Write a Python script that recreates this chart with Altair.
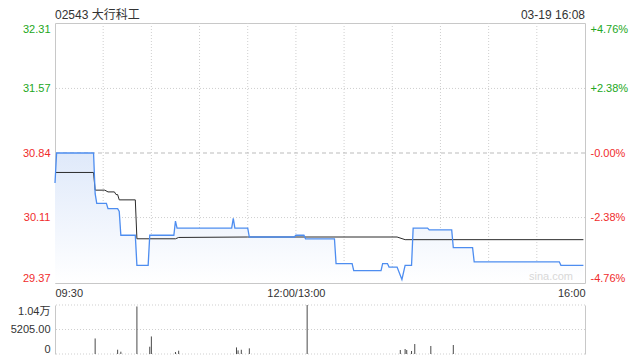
import json
import altair as alt
import pandas as pd

# ---------------- data ----------------
title_text = "02543 大行科工"
date_text = "03-19 16:08"
watermark = "sina.com"
prev_close = 30.84

# minutes since 09:30 on the trading-time axis (12:00 and 13:00 share minute 150)
price_t = [0, 1, 24, 25, 26, 32, 33, 39, 40, 41, 50, 51, 58, 59, 74, 75, 76, 110, 111, 112,
           120, 121, 149, 150, 155, 156, 174, 175, 185, 186, 203, 204, 207, 208, 213, 216,
           218, 222, 223, 232, 233, 247, 248, 260, 261, 314, 315, 329]
price_v = [30.50, 30.84, 30.84, 30.38, 30.27, 30.27, 30.21, 30.21, 30.18, 29.91,
           29.91, 29.57, 29.57, 29.91, 29.91, 30.07, 29.99, 29.99, 30.10, 29.99,
           29.99, 29.89, 29.89, 29.91, 29.91, 29.87, 29.87, 29.59, 29.59, 29.51,
           29.51, 29.59, 29.59, 29.55, 29.55, 29.41, 29.57, 29.57, 29.99, 29.99,
           29.97, 29.97, 29.77, 29.77, 29.61, 29.61, 29.57, 29.57]

avg_t = [0, 24, 25, 31, 33, 37, 38, 39, 40, 50, 51, 75, 77, 120, 213, 218, 329]
avg_v = [30.62, 30.62, 30.42, 30.42, 30.40, 30.40, 30.37, 30.37, 30.31, 30.31,
         29.87, 29.87, 29.885, 29.89, 29.89, 29.86, 29.86]

vol_t = [25, 39, 41, 51, 59, 60, 75, 77, 113, 114, 116, 121, 157, 215, 218, 219, 222, 224, 234, 248]
vol_v = [3300, 910, 490, 10100, 1550, 3730, 420, 700, 1400, 770, 900, 1200, 10410,
         850, 1060, 850, 640, 2120, 1700, 1910]

price_ticks = [29.37, 30.11, 30.84, 31.57, 32.31]
pct_labels = ["-4.76%", "-2.38%", "-0.00%", "+2.38%", "+4.76%"]
time_ticks = [0, 150, 330]
time_labels = ["09:30", "12:00/13:00", "16:00"]
grid_times = [30, 60, 90, 120, 150, 180, 210, 240, 270, 300]
vol_ticks = [0, 5205, 10410]
vol_labels = ["0", "5205.00", "1.04万"]

# ---------------- style ----------------
W = 530
H1 = 260
H2 = 49
FONT = "Liberation Sans, Noto Sans CJK SC, sans-serif"
GREEN = "#22a722"
RED = "#f02c2c"
GRID = "#cfcfcf"
BORDER = "#c8c8c8"
TEXT = "#333333"
BLUE = "#4d8df0"


def lookup(vals, labels):
    return "%s[indexof(%s, datum.value)]" % (
        json.dumps(labels, ensure_ascii=False), json.dumps(vals))


xs = alt.Scale(domain=[0, 330], nice=False, zero=False)
ys = alt.Scale(domain=[price_ticks[0], price_ticks[-1]], nice=False, zero=False)
vs = alt.Scale(domain=[0, vol_ticks[-1]], nice=False, zero=True)

price_df = pd.DataFrame({"t": price_t, "p": price_v})
avg_df = pd.DataFrame({"t": avg_t, "p": avg_v})
vol_df = pd.DataFrame({"t": vol_t, "v": vol_v})
hgrid_df = pd.DataFrame({"p": [v for v in price_ticks[1:-1] if v != prev_close]})
pc_df = pd.DataFrame({"p": [prev_close]})
vgrid_df = pd.DataFrame({"t": grid_times})
vhgrid_df = pd.DataFrame({"v": vol_ticks})

color_expr = {"expr": "datum.value > %s ? '%s' : '%s'" % (prev_close, GREEN, RED)}

# ---------------- price panel ----------------
vgrid = alt.Chart(vgrid_df).mark_rule(color=GRID, strokeDash=[1, 2], strokeWidth=1).encode(
    x=alt.X("t:Q", scale=xs, axis=None))
hgrid = alt.Chart(hgrid_df).mark_rule(color=GRID, strokeDash=[1, 2], strokeWidth=1).encode(
    y=alt.Y("p:Q", scale=ys, axis=None))
pcline = alt.Chart(pc_df).mark_rule(color="#bbbbbb", strokeDash=[4, 3], strokeWidth=1).encode(
    y=alt.Y("p:Q", scale=ys, axis=None))

area = alt.Chart(price_df).mark_area(
    color=alt.Gradient(
        gradient="linear",
        stops=[alt.GradientStop(color="#ffffff", offset=0),
               alt.GradientStop(color="#dfe9fa", offset=1)],
        x1=1, x2=1, y1=1, y2=0),
).encode(
    x=alt.X("t:Q", scale=xs, axis=alt.Axis(
        values=time_ticks, labelExpr=lookup(time_ticks, time_labels), labelFlush=True,
        grid=False, ticks=False, domain=False, labelPadding=4, labelFontSize=11,
        labelColor=TEXT, title=None)),
    y=alt.Y("p:Q", scale=ys, axis=alt.Axis(
        values=price_ticks, format=".2f", orient="left", grid=False, ticks=False,
        domain=False, labelFlush=True, labelPadding=5, labelFontSize=11,
        labelColor=color_expr, title=None)),
    y2=alt.datum(price_ticks[0]),
)

avg_line = alt.Chart(avg_df).mark_line(color="#2b2b2b", strokeWidth=1).encode(
    x=alt.X("t:Q", scale=xs, axis=None),
    y=alt.Y("p:Q", scale=ys, axis=None))

price_line = alt.Chart(price_df).mark_line(color=BLUE, strokeWidth=1.3).encode(
    x=alt.X("t:Q", scale=xs, axis=None),
    y=alt.Y("p:Q", scale=ys, axis=alt.Axis(
        values=price_ticks, orient="right", labelExpr=lookup(price_ticks, pct_labels),
        grid=False, ticks=False, domain=False, labelFlush=True, labelPadding=5,
        labelFontSize=11, labelColor=color_expr, title=None)))

title_mark = alt.Chart(pd.DataFrame({"s": [title_text]})).mark_text(
    align="left", baseline="bottom", fontSize=12, color=TEXT).encode(
    x=alt.value(0), y=alt.value(-1), text="s:N")

date_mark = alt.Chart(pd.DataFrame({"s": [date_text]})).mark_text(
    align="right", baseline="bottom", fontSize=12, color=TEXT).encode(
    x=alt.value(W), y=alt.value(-1), text="s:N")

wm_mark = alt.Chart(pd.DataFrame({"s": [watermark]})).mark_text(
    align="right", baseline="bottom", fontSize=11, color="#d8d8d8").encode(
    x=alt.value(W - 12), y=alt.value(H1 - 1), text="s:N")

price_panel = alt.layer(
    vgrid, hgrid, pcline, area, avg_line, price_line, title_mark, date_mark, wm_mark
).resolve_axis(x="independent", y="independent").properties(
    width=W, height=H1,
    view=alt.ViewBackground(stroke=BORDER),
)

# ---------------- volume panel ----------------
vgrid2 = alt.Chart(vhgrid_df).mark_rule(color=GRID, strokeDash=[1, 2], strokeWidth=1).encode(
    y=alt.Y("v:Q", scale=vs, axis=None))
bars = alt.Chart(vol_df).mark_rule(color="#4a4a4a", strokeWidth=1).encode(
    x=alt.X("t:Q", scale=xs, axis=None),
    y=alt.Y("v:Q", scale=vs, axis=alt.Axis(
        values=vol_ticks, labelExpr=lookup(vol_ticks, vol_labels), orient="left",
        grid=False, ticks=False, domain=True, domainColor=BORDER, labelFlush=True,
        labelPadding=5, labelFontSize=11, labelColor=TEXT, title=None)),
    y2=alt.datum(0),
)
rborder = alt.Chart(vhgrid_df).mark_rule(opacity=0).encode(
    y=alt.Y("v:Q", scale=vs, axis=alt.Axis(
        orient="right", labels=False, ticks=False, grid=False, domain=True,
        domainColor=BORDER, title=None)))

vol_panel = alt.layer(vgrid2, bars, rborder).resolve_axis(y="independent").properties(
    width=W, height=H2, view=alt.ViewBackground(stroke=None))

chart = alt.vconcat(price_panel, vol_panel, spacing=5).properties(
    padding={"left": 2, "top": 0, "right": 0, "bottom": 0}
).configure(font=FONT).configure_view(stroke=None)

chart.save("out.html", embed_options={"renderer": "svg", "actions": False})
